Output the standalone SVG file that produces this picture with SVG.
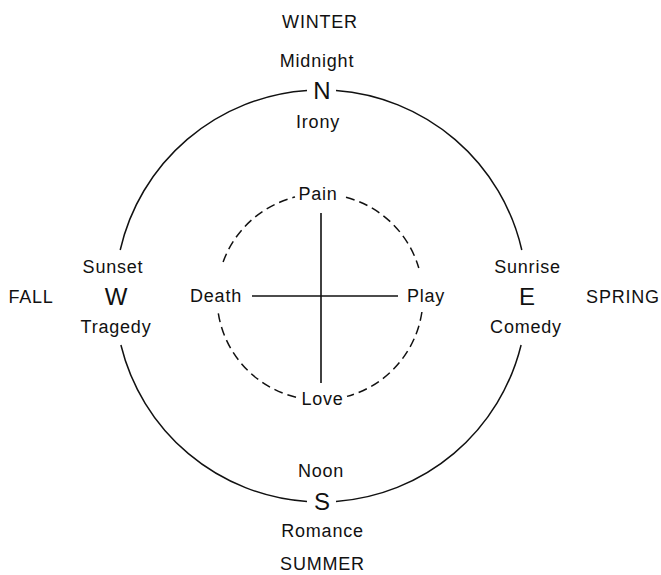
<svg xmlns="http://www.w3.org/2000/svg" width="661" height="575" viewBox="0 0 661 575">
<style>
text{font-family:"Liberation Sans",Arial,sans-serif;fill:#111;text-anchor:middle}
.t{font-size:18px;letter-spacing:0.8px}
.big{font-size:24px}
.arc{fill:none;stroke:#111;stroke-width:1.5}
.dash{fill:none;stroke:#111;stroke-width:1.5;stroke-dasharray:9 5}
.ax{stroke:#111;stroke-width:1.6}
</style>
<rect width="661" height="575" fill="#fff"/>
<g id="outer-circle">
<path class="arc" d="M336,90.55 A206,206 0 0 1 521.8,250"/>
<path class="arc" d="M521.1,345 A206,206 0 0 1 336,501.45"/>
<path class="arc" d="M307,501.5 A206,206 0 0 1 120.9,345"/>
<path class="arc" d="M120.2,250 A206,206 0 0 1 307,90.48"/>
</g>
<g id="inner-circle">
<path class="dash" d="M346,197.3 A103,103 0 0 1 418.8,268"/>
<path class="dash" d="M421.9,312 A103,103 0 0 1 347,396.4"/>
<path class="dash" d="M296,397.2 A103,103 0 0 1 218.25,313"/>
<path class="dash" d="M223.1,262 A103,103 0 0 1 295,197.1"/>
</g>
<g id="connectors">
<line class="ax" x1="321" y1="213" x2="321" y2="383"/>
<line class="ax" x1="252" y1="296" x2="398" y2="296"/>
</g>
<g id="north">
<text class="t" x="320" y="28">WINTER</text>
<text class="t" x="317" y="66.5">Midnight</text>
<text class="big" x="322" y="99">N</text>
<text class="t" x="318" y="128">Irony</text>
</g>
<g id="west">
<text class="t" x="31" y="303">FALL</text>
<text class="t" x="113" y="273">Sunset</text>
<text class="big" x="116" y="305">W</text>
<text class="t" x="116" y="332.5">Tragedy</text>
</g>
<g id="east">
<text class="t" x="527.5" y="273">Sunrise</text>
<text class="big" x="527" y="305">E</text>
<text class="t" x="526" y="333">Comedy</text>
<text class="t" x="623" y="303">SPRING</text>
</g>
<g id="south">
<text class="t" x="321" y="477">Noon</text>
<text class="big" x="322" y="510">S</text>
<text class="t" x="322.5" y="536.5">Romance</text>
<text class="t" x="322.5" y="570">SUMMER</text>
</g>
<g id="pain"><text class="t" x="318" y="200">Pain</text></g>
<g id="death"><text class="t" x="216" y="301.5">Death</text></g>
<g id="play"><text class="t" x="426" y="301.5">Play</text></g>
<g id="love"><text class="t" x="322.5" y="405">Love</text></g>
</svg>
